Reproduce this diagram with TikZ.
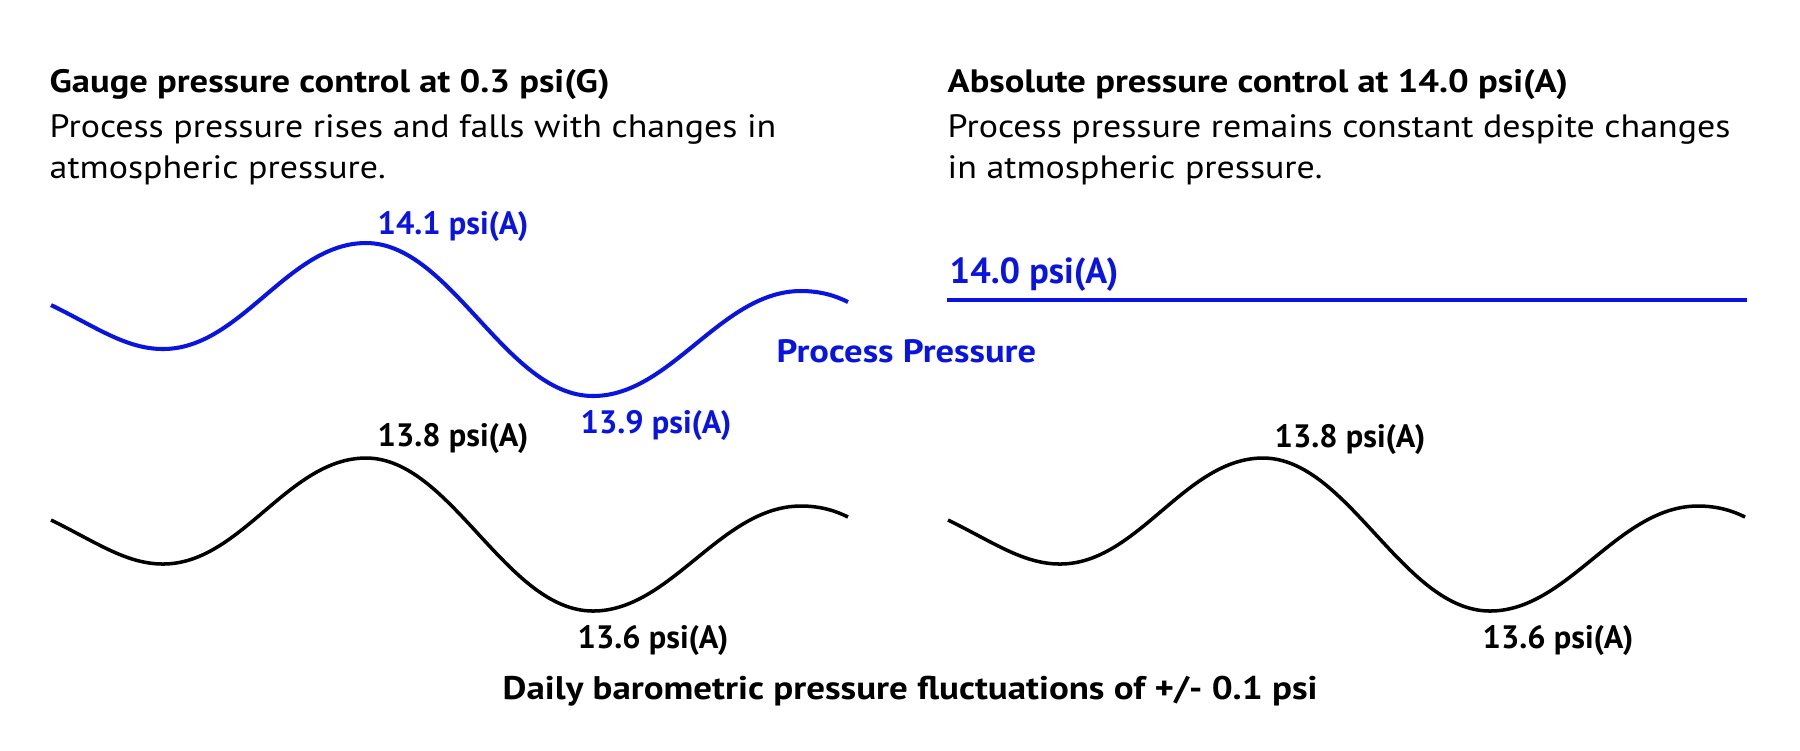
\documentclass[tikz,border=0pt]{standalone}
\usepackage{fontspec}
\setmainfont{PT Sans}
\newfontfamily\bodyfont{PT Sans}[FakeStretch=1.11]
\newfontfamily\headfont{PT Sans}[FakeStretch=1.13]
\definecolor{procblue}{RGB}{10,20,225}
\tikzset{
  dailywave/.pic={
    \draw[pic actions] (0,0) .. controls (45,22) and (75,44) .. (112,44)
      .. controls (190,44) and (237,-62) .. (315,-62)
      .. controls (400,-62) and (455,91) .. (542,91)
      .. controls (620,91) and (670,-14) .. (750,-14)
      .. controls (770,-14) and (785,-9) .. (797,-3);
  }
}
\begin{document}
\begin{tikzpicture}[x=0.01cm, y=-0.01cm,
    txt/.style={anchor=base west, inner sep=0pt, font=\fontsize{9.2}{11}\selectfont\bodyfont},
    head/.style={txt, font=\fontsize{9.2}{11}\selectfont\headfont\bfseries},
    val/.style={txt, font=\fontsize{9.2}{11}\selectfont\bfseries},
    blue/.style={text=procblue}]
  \useasboundingbox[fill=white] (0,0) rectangle (1800,750);

  % headings
  \node[head] (gaugehead) at (49, 92){Gauge pressure control at 0.3 psi(G)};
  \node[txt] (gaugeline1) at (49, 137){Process pressure rises and falls with changes in};
  \node[txt] (gaugeline2) at (49, 178){atmospheric pressure.};
  \node[head] (abshead) at (947, 92){Absolute pressure control at 14.0 psi(A)};
  \node[txt] (absline1) at (947, 137){Process pressure remains constant despite changes};
  \node[txt] (absline2) at (947, 178){in atmospheric pressure.};

  % process pressure
  \pic[draw=procblue, line width=1.15pt] (gaugeproc) at (51, 305){dailywave};
  \node[val, blue] (gaugehigh) at (377, 234){14.1 psi(A)};
  \node[val, blue] (gaugelow) at (580, 433){13.9 psi(A)};
  \node[head, blue] (proclabel) at (776, 362){Process Pressure};
  \node[val, blue, font=\fontsize{10.3}{12}\selectfont\bfseries] (abslevel) at (949, 283){14.0 psi(A)};
  \coordinate (absstart) at (947, 300);
  \coordinate (absend) at (1747, 300);
  \draw[procblue, line width=0.9pt] (absstart) -- (absend);

  % barometric pressure
  \pic[draw=black, line width=1pt] (gaugebaro) at (51, 520){dailywave};
  \pic[draw=black, line width=1pt] (absbaro) at (948, 520){dailywave};
  \node[val] (gaugebarohigh) at (377, 446){13.8 psi(A)};
  \node[val] (gaugebarolow) at (577, 648){13.6 psi(A)};
  \node[val] (absbarohigh) at (1274, 447){13.8 psi(A)};
  \node[val] (absbarolow) at (1482, 648){13.6 psi(A)};
  \node[head, font=\fontsize{9.3}{12}\selectfont\headfont\bfseries] (barolabel) at (502, 699){Daily barometric pressure fluctuations of +/- 0.1 psi};
\end{tikzpicture}
\end{document}
